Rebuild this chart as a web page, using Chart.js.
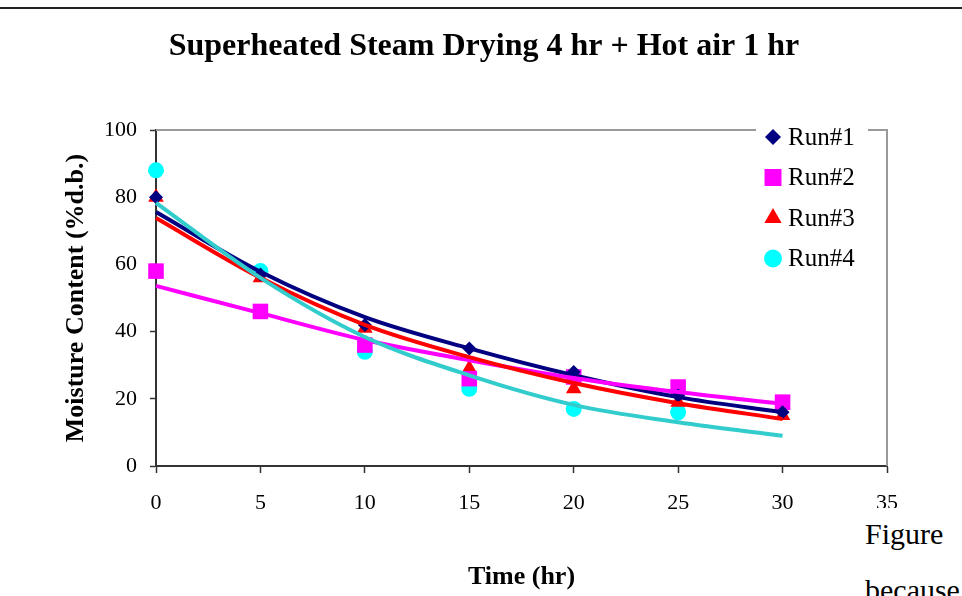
<!DOCTYPE html>
<html>
<head>
<meta charset="utf-8">
<script src="https://cdn.jsdelivr.net/npm/chart.js"></script>
<style>
  body { margin: 0; background: #fff; }
  #wrap { position: relative; width: 962px; height: 596px; overflow: hidden; }
  #rule { position: absolute; left: 0; top: 7px; width: 962px; height: 2px; background: #222; }
  #para { position: absolute; left: 858px; top: 508px; width: 104px; height: 88px; background: #fff;
          font-family: "Liberation Serif", serif; font-size: 30px; color: #000; }
  #para span { position: absolute; left: 7px; white-space: nowrap; }
</style>
</head>
<body>
<div id="wrap">
  <canvas id="my-chart" width="962" height="596"></canvas>
  <div id="rule"></div>
  <div id="para"><span style="top:9px">Figure</span><span style="top:65px">because</span></div>
</div>
<script>
// measured points (hours, % d.b.)
let times = [0, 5, 10, 15, 20, 25, 30];
let run1 = [80, 57, 42, 35, 28, 21, 16];
let run2 = [58, 46, 36, 26, 26.5, 23.5, 19];
let run3 = [80, 56, 41, 29, 23, 19, 15];
let run4 = [88, 58, 34, 23, 17, 16, null];

// trend curves at the same times
let fit1 = [75.6, 57.8, 44.3, 35, 27, 20.5, 16];
let fit2 = [53.6, 45.5, 37.5, 31.5, 26.2, 22, 18.5];
let fit3 = [73.8, 56, 42, 32.4, 24.7, 18.7, 14];
let fit4 = [78.3, 56, 38.4, 27, 18.2, 13, 9];

let xTicks = [0, 5, 10, 15, 20, 25, 30, 35];
let yTicks = [0, 20, 40, 60, 80, 100];

let chartTitle = 'Superheated Steam Drying 4 hr + Hot air 1 hr';
let names = ['Run#1', 'Run#2', 'Run#3', 'Run#4'];
let markColors = ['#000080', '#FF00FF', '#FF0000', '#00FFFF'];
let lineColors = ['#000080', '#FF00FF', '#FF0000', '#33CCCC'];
let shapes = ['rectRot', 'rect', 'triangle', 'circle'];
let sizes = [7, 11, 9, 8];

function toXY(vals) {
    return times.map((t, i) => ({ x: t, y: vals[i] })).filter(p => p.y !== null);
}

let serif = '"Liberation Serif", "Times New Roman", serif';
let datasets = [];
[run1, run2, run3, run4].forEach((vals, i) => {
    datasets.push({
        label: names[i],
        data: toXY(vals),
        showLine: false,
        clip: false,
        pointStyle: shapes[i],
        pointRadius: sizes[i],
        pointBackgroundColor: markColors[i],
        pointBorderColor: markColors[i],
        pointBorderWidth: 0,
        order: 10 + i
    });
});
[fit1, fit2, fit3, fit4].forEach((vals, i) => {
    datasets.push({
        label: 'fit' + (i + 1),
        data: toXY(vals),
        showLine: true,
        clip: false,
        borderColor: lineColors[i],
        borderWidth: 4,
        pointRadius: 0,
        cubicInterpolationMode: 'monotone',
        order: 4 - i
    });
});

function drawMark(ctx, shape, x, y, r) {
    ctx.beginPath();
    if (shape === 'rectRot') {
        ctx.moveTo(x - r, y); ctx.lineTo(x, y - r); ctx.lineTo(x + r, y); ctx.lineTo(x, y + r);
    } else if (shape === 'rect') {
        let s = r * Math.SQRT1_2;
        ctx.rect(x - s, y - s, 2 * s, 2 * s);
    } else if (shape === 'triangle') {
        ctx.moveTo(x, y - r);
        ctx.lineTo(x + r * Math.sin(2 * Math.PI / 3), y - r * Math.cos(2 * Math.PI / 3));
        ctx.lineTo(x + r * Math.sin(4 * Math.PI / 3), y - r * Math.cos(4 * Math.PI / 3));
    } else {
        ctx.arc(x, y, r, 0, Math.PI * 2);
    }
    ctx.closePath();
    ctx.fill();
}

// title centred on the page, grey frame on top and right of the plot
let framePlugin = {
    id: 'frame',
    beforeDatasetsDraw(chart) {
        let a = chart.chartArea, ctx = chart.ctx;
        ctx.save();
        ctx.fillStyle = '#000';
        ctx.font = 'bold 32px ' + serif;
        ctx.textAlign = 'center';
        ctx.textBaseline = 'middle';
        ctx.fillText(chartTitle, 484, 47);
        ctx.strokeStyle = '#999';
        ctx.lineWidth = 2;
        ctx.beginPath();
        ctx.moveTo(a.left, a.top);
        ctx.lineTo(a.right, a.top);
        ctx.lineTo(a.right, a.bottom);
        ctx.stroke();
        ctx.restore();
    }
};

// legend sitting over the top-right corner
let legendPlugin = {
    id: 'cornerLegend',
    afterDraw(chart) {
        let ctx = chart.ctx;
        ctx.save();
        ctx.fillStyle = '#fff';
        ctx.fillRect(756, 120, 112, 156);
        ctx.font = '25px ' + serif;
        ctx.textBaseline = 'middle';
        names.forEach((n, i) => {
            let y = 137 + i * 40.5;
            ctx.fillStyle = markColors[i];
            drawMark(ctx, shapes[i], 773, y, sizes[i] + 1);
            ctx.fillStyle = '#000';
            ctx.fillText(n, 788, y + 1);
        });
        ctx.restore();
    }
};

let ctx = document.querySelector('#my-chart').getContext('2d');
let myChart = new Chart(ctx, {
    type: 'scatter',
    data: { datasets: datasets },
    options: {
        responsive: false,
        animation: false,
        devicePixelRatio: 1,
        layout: { padding: { left: 0, right: 75, top: 130, bottom: 0 } },
        scales: {
            x: {
                type: 'linear',
                min: 0,
                max: 35,
                afterBuildTicks: s => { s.ticks = xTicks.map(v => ({ value: v })); },
                afterFit: s => { s.height = 130; },
                ticks: { color: '#000', font: { family: serif, size: 22 }, padding: 17 },
                grid: { drawOnChartArea: false, tickLength: 7, color: '#333', tickWidth: 1.5 },
                border: { color: '#333', width: 2 },
                title: { display: true, text: 'Time (hr)', color: '#000',
                         font: { family: serif, size: 26, weight: 'bold' }, padding: { top: 0, bottom: 3 } }
            },
            y: {
                min: 0,
                max: 100,
                afterBuildTicks: s => { s.ticks = yTicks.map(v => ({ value: v })); },
                afterFit: s => { s.width = 156; },
                ticks: { color: '#000', font: { family: serif, size: 22 }, padding: 13 },
                grid: { drawOnChartArea: false, tickLength: 6, color: '#333', tickWidth: 1.5 },
                border: { color: '#333', width: 2 },
                title: { display: true, text: 'Moisture Content (%d.b.)', color: '#000',
                         font: { family: serif, size: 26, weight: 'bold' }, padding: { top: 61, bottom: 0 } }
            }
        },
        plugins: {
            legend: { display: false },
            tooltip: { enabled: false },
            title: { display: false }
        }
    },
    plugins: [framePlugin, legendPlugin]
});
</script>
</body>
</html>
